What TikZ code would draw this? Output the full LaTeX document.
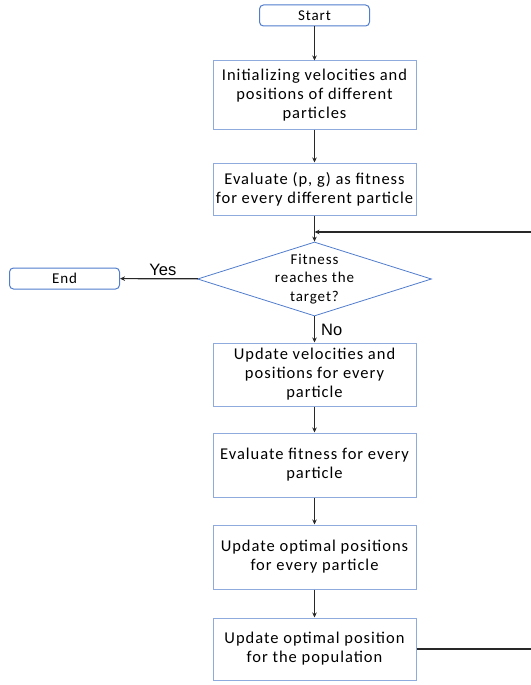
\documentclass[tikz,border=0pt]{standalone}
\usepackage{fontspec}
\setmainfont{Carlito}[LetterSpace=6]
\newfontfamily\yesnofont{Liberation Sans}
\usetikzlibrary{shapes.geometric,arrows.meta}
\definecolor{boxblue}{RGB}{143,170,220}
\definecolor{termblue}{RGB}{80,125,205}
\definecolor{linegray}{RGB}{40,40,40}

\begin{document}
\begin{tikzpicture}[x=1pt,y=-1pt,
                    font=\fontsize{16.5}{19}\selectfont,
                    proc node/.style={rectangle,draw=boxblue,line width=1pt,minimum width=203pt,align=center,inner sep=0pt},
                    term node/.style={rectangle,rounded corners=4pt,draw=termblue,line width=1pt,minimum width=110pt,minimum height=21pt,inner sep=0pt,font=\fontsize{15}{18}\selectfont},
                    dec node/.style={diamond,draw=termblue,line width=0.8pt,minimum width=234pt,minimum height=74pt,inner sep=0pt},
                    flow/.style={draw=linegray,line width=1.2pt,-{Stealth[length=5pt,width=4.5pt]}},
                    yesno/.style={font=\yesnofont\fontsize{16.5}{19}\selectfont}]

      \useasboundingbox (0,0) rectangle (530,685);

      % Define vertices
      \node[term node] (start) at (314.5,15.5) {Start};
      \node[proc node,minimum height=68pt] (init) at (314.5,95) {Initializing velocities and\\positions of different\\particles};
      \node[proc node,minimum height=52pt] (evalpg) at (314.5,189) {Evaluate (p, g) as fitness\\for every different particle};
      \node[dec node] (check) at (314.5,279) {};
      \node[align=center,font=\fontsize{15}{18.5}\selectfont] (checktext) at (check.center) {Fitness\\reaches the\\target?};
      \node[term node] (finish) at (64.5,278.5) {End};
      \node[proc node,minimum height=63pt] (upd) at (314.5,374.5) {Update velocities and\\positions for every\\particle};
      \node[proc node,minimum height=64pt] (evalfit) at (314.5,465) {Evaluate fitness for every\\particle};
      \node[proc node,minimum height=64pt] (optpos) at (314.5,557) {Update optimal positions\\for every particle};
      \node[proc node,minimum height=62pt] (optpop) at (314.5,649) {Update optimal position\\for the population};

      \coordinate (fbbot) at (535,649);
      \coordinate (fbtop) at (535,232);
      \coordinate (join) at (314.5,232);

      % Define edges
      \draw[flow] (start) -- (init);
      \draw[flow] (init) -- (evalpg);
      \draw[flow] (evalpg) -- (check);
      \draw[flow] (check) -- node[yesno,above,pos=0.45,inner sep=2pt] (yes) {Yes} (finish);
      \draw[flow] (check) -- node[yesno,right,inner sep=6pt] (no) {No} (upd);
      \draw[flow] (upd) -- (evalfit);
      \draw[flow] (evalfit) -- (optpos);
      \draw[flow] (optpos) -- (optpop);
      \draw[flow] (optpop.east) -- (fbbot) -- (fbtop) -- (join);

    \end{tikzpicture}
\end{document}
